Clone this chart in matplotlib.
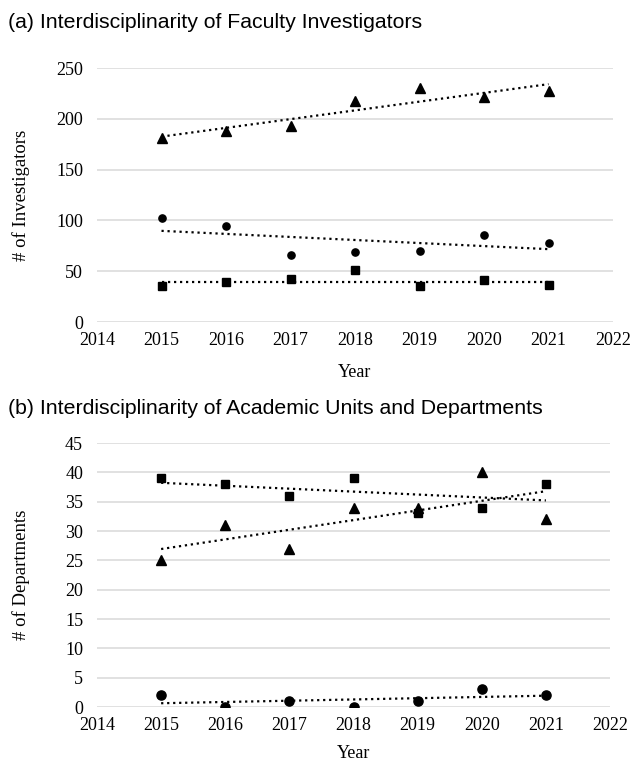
import numpy as np
import matplotlib.pyplot as plt

years = [2015, 2016, 2017, 2018, 2019, 2020, 2021]

# (a) faculty investigators
inv_triangle = [181, 188, 193, 218, 230, 221, 227]
inv_circle = [102, 94, 66, 69, 70, 86, 78]
inv_square = [35, 39, 42, 51, 35, 41, 36]

# (b) academic units and departments
dep_square = [39, 38, 36, 39, 33, 34, 38]
dep_triangle = [25, 31, 27, 34, 34, 40, 32]
dep_circle = [2, 0, 1, 0, 1, 3, 2]

x_ticks = [2014, 2015, 2016, 2017, 2018, 2019, 2020, 2021, 2022]
a_yticks = [0, 50, 100, 150, 200, 250]
b_yticks = [0, 5, 10, 15, 20, 25, 30, 35, 40, 45]

SERIF = "Liberation Serif"
SANS = "Liberation Sans"
W, H = 633, 762

fig = plt.figure(figsize=(W / 100, H / 100), dpi=100)


def trend(ax, x, y):
    x = np.asarray(x, float)
    y = np.asarray(y, float)
    m, b = np.polyfit(x, y, 1)
    xs = np.array([x.min(), x.max()])
    ax.plot(xs, m * xs + b, color="black", lw=1.6,
            linestyle=(0, (1.0, 1.7)), dash_capstyle="butt", zorder=2)


def style(ax, yticks, ylabel, xlabelpad):
    ax.set_xlim(2014, 2022)
    ax.set_xticks(x_ticks)
    ax.set_ylim(yticks[0], yticks[-1])
    ax.set_yticks(yticks)
    ax.grid(axis="y", color="#d9d9d9", lw=1.1, zorder=0)
    ax.set_axisbelow(True)
    for s in ax.spines.values():
        s.set_visible(False)
    ax.tick_params(length=0, labelsize=13)
    ax.tick_params(axis="x", pad=7)
    ax.tick_params(axis="y", pad=10)
    for lab in ax.get_xticklabels() + ax.get_yticklabels():
        lab.set_fontfamily(SERIF)
    ax.set_xlabel("Year", fontfamily=SERIF, fontsize=13, labelpad=xlabelpad)
    ax.set_ylabel(ylabel, fontfamily=SERIF, fontsize=13.5)
    # both y-axis titles sit on the same vertical line of the figure
    x_axes = ax.transAxes.inverted().transform(
        fig.transFigure.transform((30 / W, 0)))[0]
    ax.yaxis.set_label_coords(x_axes, 0.5)


def axes_box(left, right, top, bottom):
    return [left / W, 1 - bottom / H, (right - left) / W, (bottom - top) / H]


ax1 = fig.add_axes(axes_box(97, 613, 68, 322))
ax1.plot(years, inv_triangle, "^", color="black", ms=7, zorder=3)
ax1.plot(years, inv_circle, "o", color="black", ms=5.2, zorder=3)
ax1.plot(years, inv_square, "s", color="black", ms=5.8, zorder=3)
trend(ax1, years, inv_triangle)
trend(ax1, years, inv_circle)
trend(ax1, years, inv_square)
style(ax1, a_yticks, "# of Investigators", 11)

ax2 = fig.add_axes(axes_box(97, 610, 443, 707))
ax2.plot(years, dep_square, "s", color="black", ms=6, zorder=3)
ax2.plot(years, dep_triangle, "^", color="black", ms=7, zorder=3)
ax2.plot(years, dep_circle, "o", color="black", ms=6.6, zorder=3)
trend(ax2, years, dep_square)
trend(ax2, years, dep_triangle)
trend(ax2, years, dep_circle)
style(ax2, b_yticks, "# of Departments", 8)

fig.text(8 / W, 1 - 22 / H, "(a) Interdisciplinarity of Faculty Investigators",
         fontfamily=SANS, fontsize=15.3, va="center", ha="left")
fig.text(8 / W, 1 - 408 / H, "(b) Interdisciplinarity of Academic Units and Departments",
         fontfamily=SANS, fontsize=15.3, va="center", ha="left")

fig.savefig("out.png", dpi=100, facecolor="white")
